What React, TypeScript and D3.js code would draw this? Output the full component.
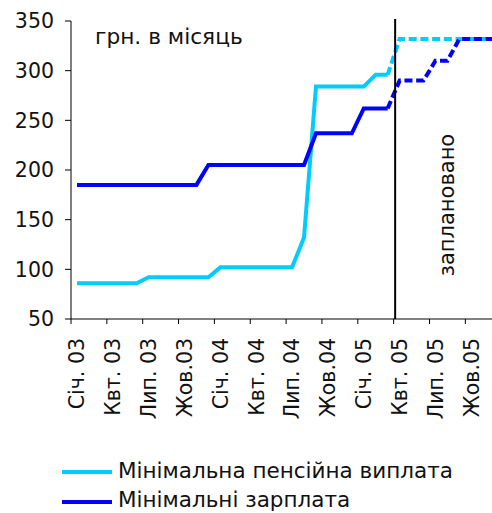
import React from "react";
import * as d3 from "d3";

const months: string[] = [
  "2003-01","2003-02","2003-03","2003-04","2003-05","2003-06","2003-07","2003-08","2003-09","2003-10","2003-11","2003-12",
  "2004-01","2004-02","2004-03","2004-04","2004-05","2004-06","2004-07","2004-08","2004-09","2004-10","2004-11","2004-12",
  "2005-01","2005-02","2005-03","2005-04","2005-05","2005-06","2005-07","2005-08","2005-09","2005-10","2005-11","2005-12",
];

// Мінімальна пенсійна виплата (actual)
const pension: (number | null)[] = [
  86, 86, 86, 86, 86, 86, 92, 92, 92, 92, 92, 92,
  102, 102, 102, 102, 102, 102, 102, 132, 284, 284, 284, 284,
  284, 296, 296, null, null, null, null, null, null, null, null, null,
];
// Мінімальні зарплата (actual)
const wage: (number | null)[] = [
  185, 185, 185, 185, 185, 185, 185, 185, 185, 185, 185, 205,
  205, 205, 205, 205, 205, 205, 205, 205, 237, 237, 237, 237,
  262, 262, 262, null, null, null, null, null, null, null, null, null,
];
// planned
const pensionPlan: (number | null)[] = [
  null, null, null, null, null, null, null, null, null, null, null, null,
  null, null, null, null, null, null, null, null, null, null, null, null,
  null, null, 296, 332, 332, 332, 332, 332, 332, 332, 332, 332,
];
const wagePlan: (number | null)[] = [
  null, null, null, null, null, null, null, null, null, null, null, null,
  null, null, null, null, null, null, null, null, null, null, null, null,
  null, null, 262, 290, 290, 290, 310, 310, 332, 332, 332, 332,
];

const tickMonths: string[] = ["2003-01","2003-04","2003-07","2003-10","2004-01","2004-04","2004-07","2004-10","2005-01","2005-04","2005-07","2005-10"];
const tickLabels: string[] = ["Січ. 03","Квт. 03","Лип. 03","Жов.03","Січ. 04","Квт. 04","Лип. 04","Жов.04","Січ. 05","Квт. 05","Лип. 05","Жов.05"];
const yTicks: number[] = [50, 100, 150, 200, 250, 300, 350];
const plannedMonth = "2005-04";

const seriesNames = ["Мінімальна пенсійна виплата", "Мінімальні зарплата"];
const colors = ["#00CCFF", "#0000FF"];

const W = 492, H = 513;
const left = 71, top = 21, bottom = 319;
const monthW = 11.95;

export default function App() {
  const x = d3.scaleBand<string>().domain(months).range([left, left + months.length * monthW]).padding(0);
  const y = d3.scaleLinear().domain([50, 350]).range([bottom, top]);
  const cx = (i: number) => (x(months[i]) as number) + x.bandwidth() / 2;
  const line = d3.line<number | null>()
    .defined((d) => d !== null)
    .x((_, i) => cx(i))
    .y((d) => y(d as number));
  const font = "'DejaVu Sans', Verdana, sans-serif";
  const vx = (x(plannedMonth) as number) + 1.5;

  return (
    <svg width={W} height={H} style={{ position: "absolute", left: 0, top: 0, background: "#fff" }} fontFamily={font}>
      {/* axes */}
      <line x1={left} x2={left} y1={top} y2={bottom} stroke="#000" strokeWidth={1} />
      <line x1={left} x2={W} y1={bottom} y2={bottom} stroke="#000" strokeWidth={1} />
      {yTicks.map((t) => (
        <g key={t}>
          <line x1={left - 6} x2={left} y1={y(t)} y2={y(t)} stroke="#000" />
          <text x={left - 17} y={y(t)} dy="0.36em" textAnchor="end" fontSize={20.5} fill="#111">{t}</text>
        </g>
      ))}
      {tickMonths.map((m, i) => {
        const tx = x(m) as number;
        return (
          <g key={m}>
            <line x1={tx} x2={tx} y1={bottom} y2={bottom + 5} stroke="#000" />
            <text
              transform={`translate(${tx + x.bandwidth() / 2},${bottom + 19}) rotate(-90)`}
              textAnchor="end" dy="0.36em" fontSize={20.5} fill="#111"
            >{tickLabels[i]}</text>
          </g>
        );
      })}
      {/* series */}
      <path d={line(pensionPlan) || ""} fill="none" stroke={colors[0]} strokeWidth={4} strokeDasharray="8,3.7" />
      <path d={line(wagePlan) || ""} fill="none" stroke={colors[1]} strokeWidth={4} strokeDasharray="8,3.7" />
      <path d={line(pension) || ""} fill="none" stroke={colors[0]} strokeWidth={4} />
      <path d={line(wage) || ""} fill="none" stroke={colors[1]} strokeWidth={4} />
      {/* planned divider */}
      <line x1={vx} x2={vx} y1={19} y2={bottom} stroke="#000" strokeWidth={2} />
      <text transform={`translate(446,205) rotate(-90)`} textAnchor="middle" dy="0.36em" fontSize={21} fill="#111">заплановано</text>
      <text x={95} y={44} fontSize={21.7} fill="#111">грн. в місяць</text>
      {/* legend */}
      {seriesNames.map((n, i) => (
        <g key={n}>
          <line x1={62} x2={112} y1={472 + i * 30} y2={472 + i * 30} stroke={colors[i]} strokeWidth={4} />
          <text x={118} y={478 + i * 29} fontSize={21.5} fill="#111">{n}</text>
        </g>
      ))}
    </svg>
  );
}
